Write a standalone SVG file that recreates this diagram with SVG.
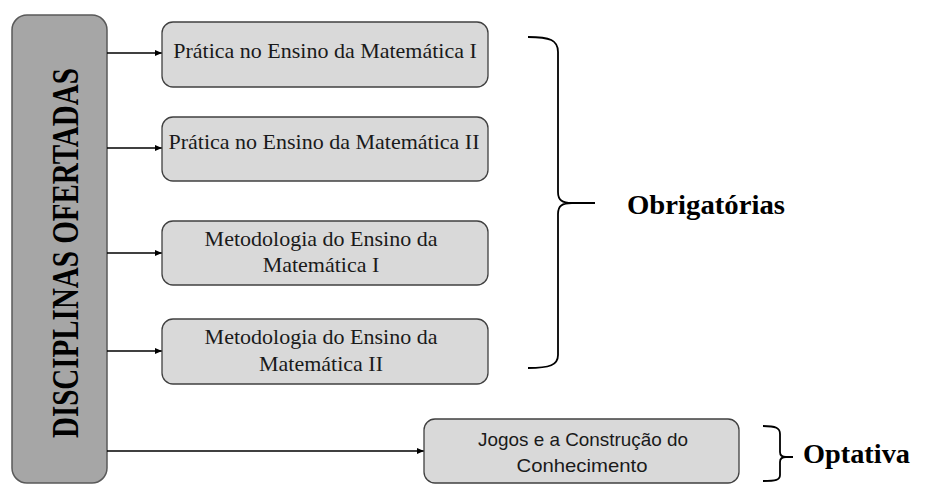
<svg xmlns="http://www.w3.org/2000/svg" width="941" height="484" viewBox="0 0 941 484">
<defs>
<marker id="ah" markerWidth="8" markerHeight="8" refX="7" refY="4" orient="auto" markerUnits="userSpaceOnUse">
<path d="M0,1 L7,4 L0,7 Z" fill="#000"/>
</marker>
<style>
.box{fill:#d9d9d9;stroke:#404040;stroke-width:1.3}
.bar{fill:#a6a6a6;stroke:#595959;stroke-width:1.5}
.serif{font-family:"Liberation Serif","Times New Roman",serif;fill:#1a1a1a}
.t{font-size:22px;text-anchor:middle}
.b{font-weight:bold;fill:#000}
.sans{font-family:"Liberation Sans",Arial,sans-serif;font-size:19px;fill:#1a1a1a;text-anchor:middle}
.conn{stroke:#000;stroke-width:1.5;fill:none}
.brace{stroke:#000;stroke-width:1.8;fill:none}
</style>
</defs>
<rect width="941" height="484" fill="#fff"/>
<g id="disciplinas">
<rect class="bar" x="12" y="15" width="95" height="468" rx="15"/>
<text class="serif b" transform="translate(78,438) rotate(-90) scale(1,1.3)" font-size="29" x="0" y="0">DISCIPLINAS OFERTADAS</text>
</g>
<g id="connectors">
<line class="conn" x1="107" y1="53" x2="162" y2="53" marker-end="url(#ah)"/>
<line class="conn" x1="107" y1="148" x2="162" y2="148" marker-end="url(#ah)"/>
<line class="conn" x1="107" y1="253" x2="162" y2="253" marker-end="url(#ah)"/>
<line class="conn" x1="107" y1="351" x2="162" y2="351" marker-end="url(#ah)"/>
<line class="conn" x1="107" y1="451" x2="424" y2="451" marker-end="url(#ah)"/>
</g>
<g id="pratica1">
<rect class="box" x="162" y="22" width="326" height="65" rx="11"/>
<text class="serif t" x="325" y="58">Prática no Ensino da Matemática I</text>
</g>
<g id="pratica2">
<rect class="box" x="162" y="117" width="326" height="64" rx="11"/>
<text class="serif t" x="324" y="149">Prática no Ensino da Matemática II</text>
</g>
<g id="metodologia1">
<rect class="box" x="162" y="221" width="326" height="64" rx="11"/>
<text class="serif t" x="321" y="246">Metodologia do Ensino da</text>
<text class="serif t" x="321" y="272">Matemática I</text>
</g>
<g id="metodologia2">
<rect class="box" x="162" y="319" width="326" height="65" rx="11"/>
<text class="serif t" x="321" y="344">Metodologia do Ensino da</text>
<text class="serif t" x="321" y="371">Matemática II</text>
</g>
<g id="jogos">
<rect class="box" x="424" y="419" width="315" height="64" rx="11"/>
<text class="sans" x="583" y="446" textLength="210" lengthAdjust="spacingAndGlyphs">Jogos e a Construção do</text>
<text class="sans" x="582" y="472" textLength="131" lengthAdjust="spacingAndGlyphs">Conhecimento</text>
</g>
<g id="obrigatorias">
<path class="brace" d="M528,37 C550,37 558,40 558,52 L558,192 C558,200 562,203 572,203 L595,203 M572,203 C562,203 558,206 558,214 L558,355 C558,365 550,368 528,368"/>
<text class="serif b" x="627" y="214" font-size="27" textLength="158" lengthAdjust="spacingAndGlyphs">Obrigatórias</text>
</g>
<g id="optativa">
<path class="brace" d="M763,426 C776,426 780,428 780,434 L780,452 C780,456 782,457 786,457 L793,457 M786,457 C782,457 780,458 780,462 L780,475 C780,480 776,481 763,481"/>
<text class="serif b" x="803" y="463" font-size="27" textLength="107" lengthAdjust="spacingAndGlyphs">Optativa</text>
</g>
</svg>
